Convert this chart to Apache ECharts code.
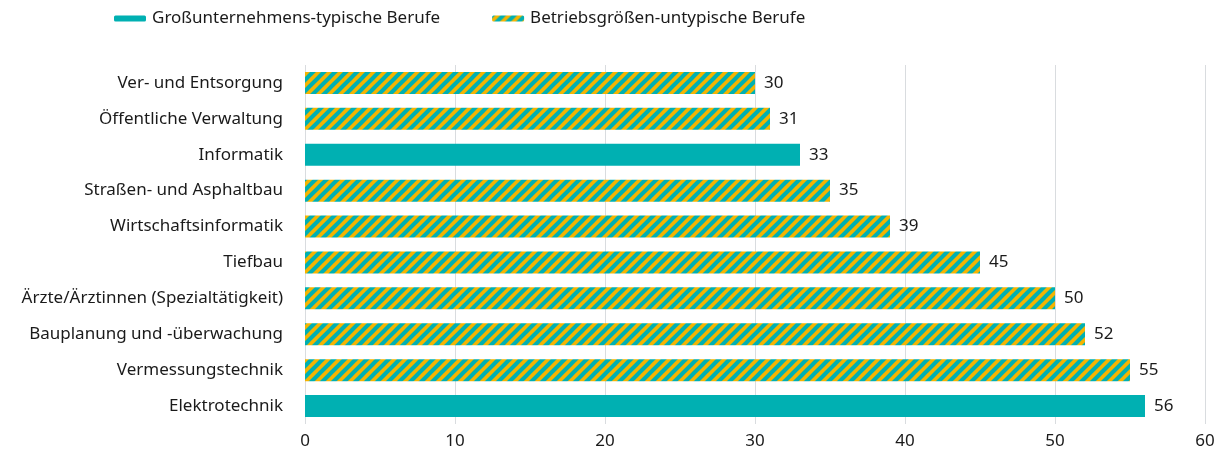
<!DOCTYPE html>
<html>
<head>
<meta charset="utf-8">
<script src="https://cdn.jsdelivr.net/npm/echarts@6/dist/echarts.min.js"></script>
<style>
  html, body { margin: 0; padding: 0; background: #fff; }
  #chart { width: 1222px; height: 454px; }
</style>
</head>
<body>
<div id="chart"></div>
<script>
const categories = [
  'Ver- und Entsorgung',
  'Öffentliche Verwaltung',
  'Informatik',
  'Straßen- und Asphaltbau',
  'Wirtschaftsinformatik',
  'Tiefbau',
  'Ärzte/Ärztinnen (Spezialtätigkeit)',
  'Bauplanung und -überwachung',
  'Vermessungstechnik',
  'Elektrotechnik'
]
// Großunternehmens-typische Berufe
const typicalValues = [null, null, 33, null, null, null, null, null, null, 56]
// Betriebsgrößen-untypische Berufe
const untypicalValues = [30, 31, null, 35, 39, 45, 50, 52, 55, null]
const xTicks = [0, 10, 20, 30, 40, 50, 60]

const TEAL = '#00b0b2'
const ORANGE = '#f5b400'

// diagonal stripes for the untypical series
function makeStripes() {
  const s = 11
  const c = document.createElement('canvas')
  c.width = s
  c.height = s
  const ctx = c.getContext('2d')
  ctx.fillStyle = ORANGE
  ctx.fillRect(0, 0, s, s)
  ctx.strokeStyle = TEAL
  ctx.lineWidth = s / 2 / Math.SQRT2 + 0.2
  ctx.beginPath()
  ctx.moveTo(-s, s); ctx.lineTo(s, -s)
  ctx.moveTo(-s, 2 * s); ctx.lineTo(2 * s, -s)
  ctx.moveTo(0, 2 * s); ctx.lineTo(2 * s, 0)
  ctx.stroke()
  return c
}
const stripes = { image: makeStripes(), repeat: 'repeat' }

const font = 'Noto Sans'
const chart = echarts.init(document.getElementById('chart'))

const labelOpt = {
  show: true,
  position: 'right',
  distance: 9,
  color: '#1a1a1a',
  fontSize: 17,
  fontFamily: font
}

chart.setOption({
  animation: false,
  textStyle: { fontFamily: font },
  legend: {
    left: 109,
    top: 5,
    itemWidth: 32,
    itemHeight: 6,
    itemGap: 52,
    icon: 'roundRect',
    textStyle: { fontSize: 17, color: '#1a1a1a', fontFamily: font, padding: [0, 0, 0, 1] },
    data: ['Großunternehmens-typische Berufe', 'Betriebsgrößen-untypische Berufe']
  },
  grid: { left: 305, right: 17, top: 65, bottom: 30 },
  xAxis: {
    type: 'value',
    min: 0,
    max: 60,
    interval: 10,
    axisLine: { show: false },
    axisTick: { show: false },
    axisLabel: {
      fontSize: 17,
      color: '#1a1a1a',
      margin: 9,
      formatter: v => (xTicks.includes(v) ? String(v) : '')
    },
    splitLine: { lineStyle: { color: '#d9dcdf', width: 1 } }
  },
  yAxis: {
    type: 'category',
    inverse: true,
    data: categories,
    axisLine: { show: false },
    axisTick: { show: false },
    axisLabel: { fontSize: 17, color: '#1a1a1a', margin: 22 }
  },
  series: [
    {
      name: 'Großunternehmens-typische Berufe',
      type: 'bar',
      stack: 'all',
      barWidth: 22,
      data: typicalValues,
      itemStyle: { color: TEAL },
      label: labelOpt
    },
    {
      name: 'Betriebsgrößen-untypische Berufe',
      type: 'bar',
      stack: 'all',
      barWidth: 22,
      data: untypicalValues,
      itemStyle: { color: stripes },
      label: labelOpt
    }
  ]
})
</script>
</body>
</html>
